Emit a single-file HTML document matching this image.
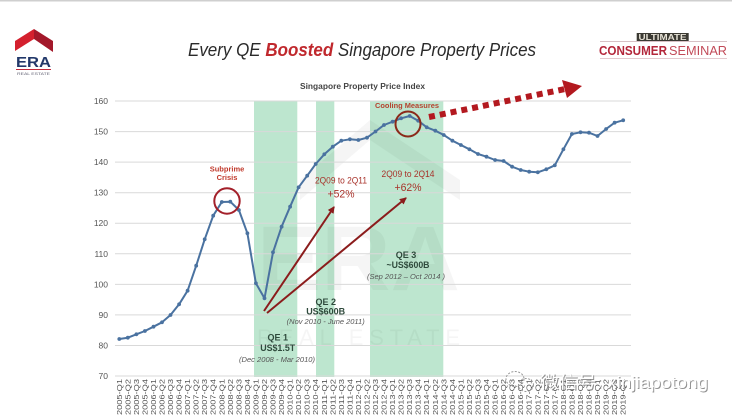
<!DOCTYPE html>
<html><head><meta charset="utf-8"><style>
html,body{margin:0;padding:0;background:#fff;}
svg{display:block;font-family:"Liberation Sans","Noto Sans CJK SC",sans-serif;}
</style></head><body>
<svg width="732" height="415" viewBox="0 0 732 415" xmlns="http://www.w3.org/2000/svg">
<defs>
<marker id="dot" markerWidth="5" markerHeight="5" refX="2.5" refY="2.5" markerUnits="userSpaceOnUse"><circle cx="2.5" cy="2.5" r="1.9" fill="#4a72a0"/></marker>
<marker id="ah" markerWidth="8" markerHeight="8" refX="6" refY="4" orient="auto" markerUnits="userSpaceOnUse"><path d="M0,0.5 L7,4 L0,7.5 Z" fill="#8b1c1c"/></marker>
</defs>
<rect x="0" y="0" width="732" height="415" fill="#fff"/>
<rect x="0" y="0" width="732" height="1.5" fill="#cfcfcf"/>

<!-- ERA logo -->
<polygon points="15,41 34,29 34,39 15,51" fill="#d4202e"/>
<polygon points="34,29 53,41 53,52 34,39" fill="#a3182a"/>
<text x="16" y="67" font-size="15" font-weight="bold" fill="#22386a" textLength="35" lengthAdjust="spacingAndGlyphs">ERA</text>
<rect x="16" y="69" width="35" height="1" fill="#c0283a"/>
<text x="17" y="75" font-size="3.5" fill="#667" textLength="33" lengthAdjust="spacingAndGlyphs">REAL ESTATE</text>

<!-- Title -->
<text x="188" y="56" font-size="18" font-style="italic" fill="#2a2a2a" textLength="348" lengthAdjust="spacingAndGlyphs">Every QE <tspan font-weight="bold" fill="#c0282d">Boosted</tspan> Singapore Property Prices</text>

<!-- Consumer seminar logo -->
<rect x="600" y="41" width="127" height="0.8" fill="#cdb3b8"/>
<rect x="636.7" y="33" width="52" height="8" fill="#3b3a33"/>
<text x="638.5" y="40.2" font-size="8" font-weight="bold" fill="#e8e4d8" textLength="48" lengthAdjust="spacingAndGlyphs">ULTIMATE</text>
<text x="599" y="55" font-size="12.5" font-weight="bold" fill="#b3263a" textLength="68" lengthAdjust="spacingAndGlyphs">CONSUMER</text>
<text x="669" y="55" font-size="12.5" fill="#c24a58" textLength="58" lengthAdjust="spacingAndGlyphs">SEMINAR</text>
<rect x="600" y="58" width="127" height="0.8" fill="#dcbcc2"/>

<!-- chart subtitle -->
<text x="300" y="89" font-size="8" font-weight="bold" fill="#444" textLength="125" lengthAdjust="spacingAndGlyphs">Singapore Property Price Index</text>

<!-- bands -->
<rect x="254" y="101" width="43.3" height="276" fill="#bde6cf"/>
<rect x="316" y="101" width="18.3" height="276" fill="#bde6cf"/>
<rect x="370" y="101" width="73.3" height="276" fill="#bde6cf"/>

<!-- watermark -->
<g opacity="0.035" fill="#000">
<polygon points="300,180 370,120 460,180 460,200 370,140 300,200"/>
<text x="257" y="290" font-size="92" font-weight="bold" textLength="203" lengthAdjust="spacingAndGlyphs">ERA</text>
<text x="257" y="345" font-size="22" textLength="203" lengthAdjust="spacing">REAL ESTATE</text>
</g>

<!-- gridlines -->
<g stroke="#d9d9d9" stroke-width="1">
<line x1="115" x2="631" y1="101" y2="101"/>
<line x1="115" x2="631" y1="131.6" y2="131.6"/>
<line x1="115" x2="631" y1="162.1" y2="162.1"/>
<line x1="115" x2="631" y1="192.7" y2="192.7"/>
<line x1="115" x2="631" y1="223.2" y2="223.2"/>
<line x1="115" x2="631" y1="253.8" y2="253.8"/>
<line x1="115" x2="631" y1="284.4" y2="284.4"/>
<line x1="115" x2="631" y1="314.9" y2="314.9"/>
<line x1="115" x2="631" y1="345.5" y2="345.5"/>
<line x1="115" x2="631" y1="376" y2="376"/>
</g>
<g font-size="8.5" fill="#555" text-anchor="end">
<text x="108" y="104">160</text>
<text x="108" y="134.6">150</text>
<text x="108" y="165.1">140</text>
<text x="108" y="195.7">130</text>
<text x="108" y="226.2">120</text>
<text x="108" y="256.8">110</text>
<text x="108" y="287.4">100</text>
<text x="108" y="317.9">90</text>
<text x="108" y="348.5">80</text>
<text x="108" y="379">70</text>
</g>

<!-- series -->
<polyline fill="none" stroke="#4a72a0" stroke-width="2" stroke-linejoin="round" marker-start="url(#dot)" marker-mid="url(#dot)" marker-end="url(#dot)" points="119.3,339 127.8,337.7 136.4,334.3 144.9,331 153.5,326.7 162,322.3 170.5,315 179.1,304.3 187.6,290.7 196.2,265.7 204.7,239.3 213.2,215.7 221.8,202 230.3,201.7 238.9,210 247.4,233.3 255.9,283.3 264.5,298.3 273,252.3 281.6,226.7 290.1,206.7 298.6,187.3 307.2,175.7 315.7,164 324.3,154.3 332.8,146.7 341.3,140.7 349.9,139.3 358.4,140 367,137.7 375.5,131.5 384,125 392.6,121.7 401.1,118.3 409.7,116 418.2,120.7 426.7,127.3 435.3,130.7 443.8,135 452.4,140.7 460.9,145 469.4,149.3 478,154 486.5,156.7 495.1,160 503.6,161 512.1,166.7 520.7,170 529.2,171.7 537.8,172.3 546.3,169.3 554.8,165.3 563.4,149.3 571.9,134 580.5,132.3 589,132.7 597.5,136 606.1,129 614.6,122.7 623.2,120.3"/>

<!-- circles -->
<circle cx="227" cy="201" r="12.7" fill="none" stroke="#a3202a" stroke-width="2"/>
<circle cx="408" cy="124" r="12.5" fill="none" stroke="#8b2a1a" stroke-width="2"/>

<!-- arrows -->
<line x1="264" y1="311" x2="334" y2="207" stroke="#8b1c1c" stroke-width="2" marker-end="url(#ah)"/>
<line x1="267" y1="313" x2="406" y2="198" stroke="#8b1c1c" stroke-width="2" marker-end="url(#ah)"/>

<!-- dashed arrow -->
<line x1="429" y1="117" x2="565" y2="89" stroke="#b3191f" stroke-width="6" stroke-dasharray="6,5"/>
<polygon points="562,80 582,86 567,98" fill="#b3191f"/>

<!-- annotations -->
<g font-weight="bold" text-anchor="middle">
<text x="227" y="171.5" font-size="7.5" fill="#c0392b">Subprime</text>
<text x="227" y="180" font-size="7.5" fill="#c0392b">Crisis</text>
<text x="407" y="108" font-size="7.5" fill="#b5432f" textLength="64" lengthAdjust="spacingAndGlyphs">Cooling Measures</text>
</g>
<g text-anchor="middle" fill="#a8322a">
<text x="341" y="183.5" font-size="9.5" textLength="52" lengthAdjust="spacingAndGlyphs">2Q09 to 2Q11</text>
<text x="341" y="197.5" font-size="11" textLength="27" lengthAdjust="spacingAndGlyphs">+52%</text>
<text x="408" y="177" font-size="9.5" textLength="53" lengthAdjust="spacingAndGlyphs">2Q09 to 2Q14</text>
<text x="408" y="191" font-size="11" textLength="27" lengthAdjust="spacingAndGlyphs">+62%</text>
</g>
<g text-anchor="middle" font-weight="bold" fill="#2f4a3c" font-size="9">
<text x="406" y="258">QE 3</text>
<text x="408" y="268" textLength="43" lengthAdjust="spacingAndGlyphs">~US$600B</text>
<text x="325.7" y="305">QE 2</text>
<text x="325.7" y="314.5" textLength="39" lengthAdjust="spacingAndGlyphs">US$600B</text>
<text x="277.7" y="340.7">QE 1</text>
<text x="277.7" y="351" textLength="35" lengthAdjust="spacingAndGlyphs">US$1.5T</text>
</g>
<g text-anchor="middle" font-style="italic" fill="#555" font-size="7">
<text x="406" y="279" textLength="78" lengthAdjust="spacingAndGlyphs">(Sep 2012 – Oct 2014 )</text>
<text x="325.7" y="324" textLength="78" lengthAdjust="spacingAndGlyphs">(Nov 2010 - June 2011)</text>
<text x="277" y="362" textLength="76" lengthAdjust="spacingAndGlyphs">(Dec 2008 - Mar 2010)</text>
</g>

<!-- x labels -->
<g font-size="7" fill="#555" text-anchor="end">
<text transform="translate(121.8,379) rotate(-90)" textLength="36" lengthAdjust="spacingAndGlyphs">2005-Q1</text>
<text transform="translate(130.3,379) rotate(-90)" textLength="36" lengthAdjust="spacingAndGlyphs">2005-Q2</text>
<text transform="translate(138.9,379) rotate(-90)" textLength="36" lengthAdjust="spacingAndGlyphs">2005-Q3</text>
<text transform="translate(147.4,379) rotate(-90)" textLength="36" lengthAdjust="spacingAndGlyphs">2005-Q4</text>
<text transform="translate(156,379) rotate(-90)" textLength="36" lengthAdjust="spacingAndGlyphs">2006-Q1</text>
<text transform="translate(164.5,379) rotate(-90)" textLength="36" lengthAdjust="spacingAndGlyphs">2006-Q2</text>
<text transform="translate(173,379) rotate(-90)" textLength="36" lengthAdjust="spacingAndGlyphs">2006-Q3</text>
<text transform="translate(181.6,379) rotate(-90)" textLength="36" lengthAdjust="spacingAndGlyphs">2006-Q4</text>
<text transform="translate(190.1,379) rotate(-90)" textLength="36" lengthAdjust="spacingAndGlyphs">2007-Q1</text>
<text transform="translate(198.7,379) rotate(-90)" textLength="36" lengthAdjust="spacingAndGlyphs">2007-Q2</text>
<text transform="translate(207.2,379) rotate(-90)" textLength="36" lengthAdjust="spacingAndGlyphs">2007-Q3</text>
<text transform="translate(215.7,379) rotate(-90)" textLength="36" lengthAdjust="spacingAndGlyphs">2007-Q4</text>
<text transform="translate(224.3,379) rotate(-90)" textLength="36" lengthAdjust="spacingAndGlyphs">2008-Q1</text>
<text transform="translate(232.8,379) rotate(-90)" textLength="36" lengthAdjust="spacingAndGlyphs">2008-Q2</text>
<text transform="translate(241.4,379) rotate(-90)" textLength="36" lengthAdjust="spacingAndGlyphs">2008-Q3</text>
<text transform="translate(249.9,379) rotate(-90)" textLength="36" lengthAdjust="spacingAndGlyphs">2008-Q4</text>
<text transform="translate(258.4,379) rotate(-90)" textLength="36" lengthAdjust="spacingAndGlyphs">2009-Q1</text>
<text transform="translate(267,379) rotate(-90)" textLength="36" lengthAdjust="spacingAndGlyphs">2009-Q2</text>
<text transform="translate(275.5,379) rotate(-90)" textLength="36" lengthAdjust="spacingAndGlyphs">2009-Q3</text>
<text transform="translate(284.1,379) rotate(-90)" textLength="36" lengthAdjust="spacingAndGlyphs">2009-Q4</text>
<text transform="translate(292.6,379) rotate(-90)" textLength="36" lengthAdjust="spacingAndGlyphs">2010-Q1</text>
<text transform="translate(301.1,379) rotate(-90)" textLength="36" lengthAdjust="spacingAndGlyphs">2010-Q2</text>
<text transform="translate(309.7,379) rotate(-90)" textLength="36" lengthAdjust="spacingAndGlyphs">2010-Q3</text>
<text transform="translate(318.2,379) rotate(-90)" textLength="36" lengthAdjust="spacingAndGlyphs">2010-Q4</text>
<text transform="translate(326.8,379) rotate(-90)" textLength="36" lengthAdjust="spacingAndGlyphs">2011-Q1</text>
<text transform="translate(335.3,379) rotate(-90)" textLength="36" lengthAdjust="spacingAndGlyphs">2011-Q2</text>
<text transform="translate(343.8,379) rotate(-90)" textLength="36" lengthAdjust="spacingAndGlyphs">2011-Q3</text>
<text transform="translate(352.4,379) rotate(-90)" textLength="36" lengthAdjust="spacingAndGlyphs">2011-Q4</text>
<text transform="translate(360.9,379) rotate(-90)" textLength="36" lengthAdjust="spacingAndGlyphs">2012-Q1</text>
<text transform="translate(369.5,379) rotate(-90)" textLength="36" lengthAdjust="spacingAndGlyphs">2012-Q2</text>
<text transform="translate(378,379) rotate(-90)" textLength="36" lengthAdjust="spacingAndGlyphs">2012-Q3</text>
<text transform="translate(386.5,379) rotate(-90)" textLength="36" lengthAdjust="spacingAndGlyphs">2012-Q4</text>
<text transform="translate(395.1,379) rotate(-90)" textLength="36" lengthAdjust="spacingAndGlyphs">2013-Q1</text>
<text transform="translate(403.6,379) rotate(-90)" textLength="36" lengthAdjust="spacingAndGlyphs">2013-Q2</text>
<text transform="translate(412.2,379) rotate(-90)" textLength="36" lengthAdjust="spacingAndGlyphs">2013-Q3</text>
<text transform="translate(420.7,379) rotate(-90)" textLength="36" lengthAdjust="spacingAndGlyphs">2013-Q4</text>
<text transform="translate(429.2,379) rotate(-90)" textLength="36" lengthAdjust="spacingAndGlyphs">2014-Q1</text>
<text transform="translate(437.8,379) rotate(-90)" textLength="36" lengthAdjust="spacingAndGlyphs">2014-Q2</text>
<text transform="translate(446.3,379) rotate(-90)" textLength="36" lengthAdjust="spacingAndGlyphs">2014-Q3</text>
<text transform="translate(454.9,379) rotate(-90)" textLength="36" lengthAdjust="spacingAndGlyphs">2014-Q4</text>
<text transform="translate(463.4,379) rotate(-90)" textLength="36" lengthAdjust="spacingAndGlyphs">2015-Q1</text>
<text transform="translate(471.9,379) rotate(-90)" textLength="36" lengthAdjust="spacingAndGlyphs">2015-Q2</text>
<text transform="translate(480.5,379) rotate(-90)" textLength="36" lengthAdjust="spacingAndGlyphs">2015-Q3</text>
<text transform="translate(489,379) rotate(-90)" textLength="36" lengthAdjust="spacingAndGlyphs">2015-Q4</text>
<text transform="translate(497.6,379) rotate(-90)" textLength="36" lengthAdjust="spacingAndGlyphs">2016-Q1</text>
<text transform="translate(506.1,379) rotate(-90)" textLength="36" lengthAdjust="spacingAndGlyphs">2016-Q2</text>
<text transform="translate(514.6,379) rotate(-90)" textLength="36" lengthAdjust="spacingAndGlyphs">2016-Q3</text>
<text transform="translate(523.2,379) rotate(-90)" textLength="36" lengthAdjust="spacingAndGlyphs">2016-Q4</text>
<text transform="translate(531.7,379) rotate(-90)" textLength="36" lengthAdjust="spacingAndGlyphs">2017-Q1</text>
<text transform="translate(540.3,379) rotate(-90)" textLength="36" lengthAdjust="spacingAndGlyphs">2017-Q2</text>
<text transform="translate(548.8,379) rotate(-90)" textLength="36" lengthAdjust="spacingAndGlyphs">2017-Q3</text>
<text transform="translate(557.3,379) rotate(-90)" textLength="36" lengthAdjust="spacingAndGlyphs">2017-Q4</text>
<text transform="translate(565.9,379) rotate(-90)" textLength="36" lengthAdjust="spacingAndGlyphs">2018-Q1</text>
<text transform="translate(574.4,379) rotate(-90)" textLength="36" lengthAdjust="spacingAndGlyphs">2018-Q2</text>
<text transform="translate(583,379) rotate(-90)" textLength="36" lengthAdjust="spacingAndGlyphs">2018-Q3</text>
<text transform="translate(591.5,379) rotate(-90)" textLength="36" lengthAdjust="spacingAndGlyphs">2018-Q4</text>
<text transform="translate(600,379) rotate(-90)" textLength="36" lengthAdjust="spacingAndGlyphs">2019-Q1</text>
<text transform="translate(608.6,379) rotate(-90)" textLength="36" lengthAdjust="spacingAndGlyphs">2019-Q2</text>
<text transform="translate(617.1,379) rotate(-90)" textLength="36" lengthAdjust="spacingAndGlyphs">2019-Q3</text>
<text transform="translate(625.7,379) rotate(-90)" textLength="36" lengthAdjust="spacingAndGlyphs">2019-Q4</text>
</g>

<!-- wechat watermark -->
<g fill="none" stroke="#999" stroke-width="1" stroke-dasharray="2,1.5">
<ellipse cx="515" cy="379" rx="9" ry="7.5"/>
<ellipse cx="526" cy="385" rx="7.5" ry="6.5"/>
</g>
<text x="541" y="389" font-size="17" fill="#777" opacity="0.8" textLength="168" lengthAdjust="spacingAndGlyphs">微信号: xinjiapotong</text>
<text x="540" y="388" font-size="17" fill="#fff" textLength="168" lengthAdjust="spacingAndGlyphs">微信号: xinjiapotong</text>
</svg>
</body></html>
